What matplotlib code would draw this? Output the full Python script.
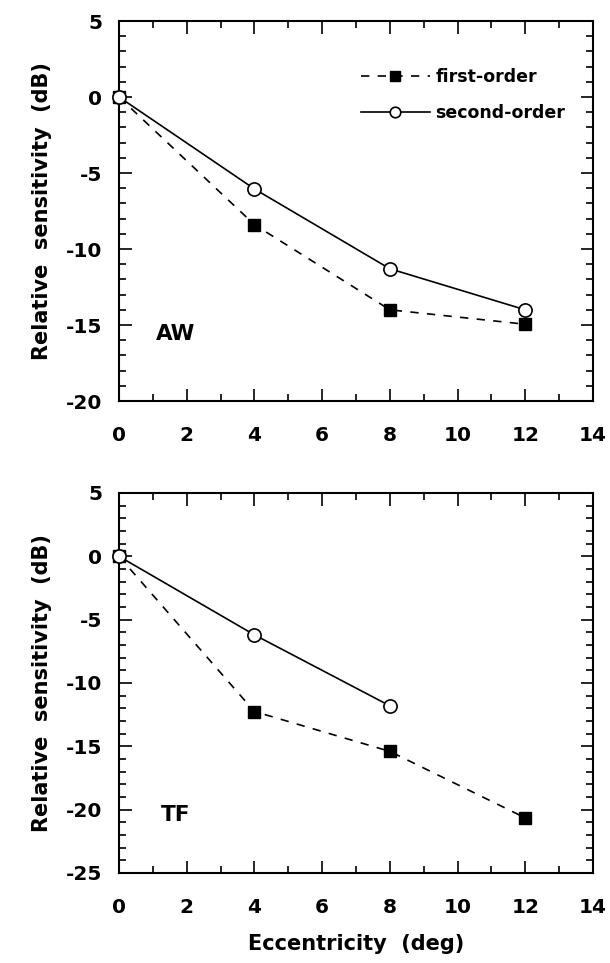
import matplotlib
matplotlib.use("Agg")
import matplotlib.pyplot as plt
from matplotlib.ticker import MultipleLocator

plt.rcParams['font.family'] = ['DejaVu Sans']
plt.rcParams['font.weight'] = 'bold'
plt.rcParams['axes.unicode_minus'] = False

ecc = [0, 4, 8, 12]
aw_first = [0, -8.4, -14.0, -14.95]
aw_second = [0, -6.05, -11.3, -14.0]
tf_ecc_first = [0, 4, 8, 12]
tf_first = [0, -12.25, -15.4, -20.65]
tf_ecc_second = [0, 4, 8]
tf_second = [0, -6.2, -11.8]

xticks = [0, 2, 4, 6, 8, 10, 12, 14]

fig = plt.figure(figsize=(6.10, 9.63), dpi=100)
ax1 = fig.add_axes([119/610, 1-401/963, 474/610, 380/963])
ax2 = fig.add_axes([119/610, 1-873/963, 474/610, 380/963])

FS = 14.5

def style(ax, ylim, panel, px, py):
    ax.set_xlim(0, 14)
    ax.set_ylim(*ylim)
    ax.set_xticks(xticks)
    ax.xaxis.set_minor_locator(MultipleLocator(1))
    ax.yaxis.set_major_locator(MultipleLocator(5))
    ax.yaxis.set_minor_locator(MultipleLocator(1))
    ax.tick_params(which='both', direction='in', top=True, right=True, width=1.2, labelsize=FS)
    ax.tick_params(which='major', length=9)
    ax.tick_params(which='minor', length=5)
    ax.tick_params(axis='x', which='major', pad=18)
    ax.tick_params(axis='y', which='major', pad=12)
    for s in ax.spines.values():
        s.set_linewidth(1.5)
    ax.set_ylabel('Relative  sensitivity  (dB)', fontsize=15, fontweight='bold', labelpad=10)
    ax.text(px, py, panel, fontsize=15.5, fontweight='bold', ha='left', va='center')

def plot_series(ax, xf, yf, xs, ys):
    lf, = ax.plot(xf, yf, color='black', lw=1.2, ls=(0, (5, 5)), marker='s', ms=9,
                  mfc='black', mec='black', clip_on=False, zorder=3, label='first-order')
    ls, = ax.plot(xs, ys, color='black', lw=1.2, ls='-', marker='o', ms=9.5,
                  mfc='white', mec='black', mew=1.2, clip_on=False, zorder=4, label='second-order')
    return lf, ls

lf, ls = plot_series(ax1, ecc, aw_first, ecc, aw_second)
plot_series(ax2, tf_ecc_first, tf_first, tf_ecc_second, tf_second)

style(ax1, (-20, 5), 'AW', 1.1, -15.6)
style(ax2, (-25, 5), 'TF', 1.25, -20.4)

ax1.legend(handles=[lf, ls], loc='upper left', bbox_to_anchor=(0.51, 0.877),
           frameon=False, handlelength=4.0, handletextpad=0.3,
           labelspacing=1.05, borderpad=0, borderaxespad=0, numpoints=1,
           markerscale=0.8, prop={'size': 12.5, 'weight': 'bold'})

ax2.set_xlabel('Eccentricity  (deg)', fontsize=15, fontweight='bold', labelpad=12)

fig.savefig('out.png', dpi=100)
